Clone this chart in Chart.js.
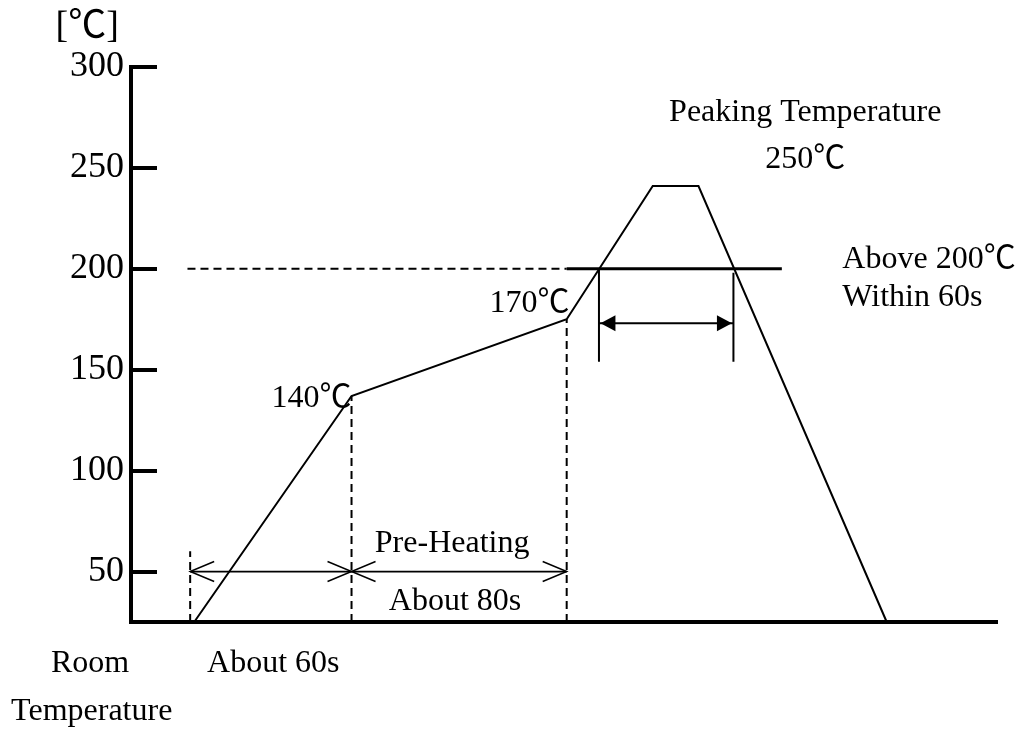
<!DOCTYPE html>
<html>
<head>
<meta charset="utf-8">
<script src="https://cdn.jsdelivr.net/npm/chart.js@4.4.1/dist/chart.umd.min.js"></script>
<style>
  html, body { margin: 0; padding: 0; background: #fff; }
</style>
</head>
<body>
<canvas id="chart" width="1021" height="729"></canvas>
<script>
// reflow profile (x: seconds, y: °C)
const profileTime = [1.5, 60, 140, 172, 189, 259];
const profileTemp = [25, 137, 175, 241, 241, 25];
const yTicks = [50, 100, 150, 200, 250, 300];

const guideTemp = 200;
const dashedGuideTime = [-1, 140];
const solidGuideTime = [140, 220];

const stepTimes = [0, 60, 140];   // dashed verticals
const stepTops = [60, 137, 175];
const roomTemp = 25;

const windowTimes = [152, 202];   // "within 60s" bracket
const windowTops = [200, 198];
const windowBottom = 154;

const arrowTemp = 50;
const windowArrowTemp = 173;

const SERIF = "'Liberation Serif', 'Times New Roman', serif";
const CJK = "'Noto Sans CJK JP', 'Noto Sans CJK SC', sans-serif";

const pts = (xs, ys) => xs.map((x, i) => ({ x: x, y: ys[i] }));

// vertical segments, broken by null points
function verticals(xs, bottoms, tops) {
  const out = [];
  xs.forEach((x, i) => {
    out.push({ x: x, y: bottoms[i] }, { x: x, y: tops[i] }, { x: x, y: null });
  });
  return out;
}

const line = (data, extra) => Object.assign({
  data: data, borderColor: '#000', borderWidth: 2, pointRadius: 0,
  tension: 0, fill: false, spanGaps: false, clip: false
}, extra);

// text labels, placed in data coordinates
const labels = [
  { text: '[℃]', t: -38.3, v: 314.9, align: 'center', size: 38 },
  { text: 'Peaking Temperature', t: 228.7, v: 273.3, align: 'center' },
  { text: '250℃', t: 228.7, v: 250, align: 'center' },
  { text: 'Above 200℃', t: 242.5, v: 200.4, align: 'left' },
  { text: 'Within 60s', t: 242.5, v: 181.6, align: 'left' },
  { text: '170℃', t: 141, v: 178.6, align: 'right' },
  { text: '140℃', t: 60, v: 131.5, align: 'right' },
  { text: 'Pre-Heating', t: 97.4, v: 59.7, align: 'center' },
  { text: 'About 80s', t: 98.5, v: 31, align: 'center' },
  { text: 'About 60s', t: 30.9, v: 0.2, align: 'center' },
  { text: 'Room', t: -37.2, v: 0.2, align: 'center' },
  { text: 'Temperature', t: -36.6, v: -23.6, align: 'center' }
];

// draw text with ℃ taken from the CJK font
function drawMixed(ctx, text, x, y, align, size) {
  const runs = text.split(/(℃)/).filter(s => s.length);
  const fontFor = s => size + 'px ' + (s === '℃' ? CJK : SERIF);
  let total = 0;
  runs.forEach(s => { ctx.font = fontFor(s); total += ctx.measureText(s).width; });
  let cx = align === 'center' ? x - total / 2 : align === 'right' ? x - total : x;
  ctx.textAlign = 'left';
  ctx.textBaseline = 'alphabetic';
  runs.forEach(s => {
    ctx.font = fontFor(s);
    ctx.fillText(s, cx, y);
    cx += ctx.measureText(s).width;
  });
}

const annotations = {
  id: 'annotations',
  afterDatasetsDraw(chart) {
    const { ctx, scales: { x, y } } = chart;
    ctx.save();
    ctx.fillStyle = '#000';
    ctx.strokeStyle = '#000';

    // open arrow heads on the time spans
    ctx.lineWidth = 1.5;
    const ay = y.getPixelForValue(arrowTemp);
    [[stepTimes[0], -1], [stepTimes[1], 1], [stepTimes[1], -1], [stepTimes[2], 1]].forEach(([t, dir]) => {
      const px = x.getPixelForValue(t);
      ctx.beginPath();
      ctx.moveTo(px - dir * 24, ay - 10);
      ctx.lineTo(px, ay);
      ctx.lineTo(px - dir * 24, ay + 10);
      ctx.stroke();
    });

    // filled arrow heads inside the window
    const wy = y.getPixelForValue(windowArrowTemp);
    [[windowTimes[0], -1], [windowTimes[1], 1]].forEach(([t, dir]) => {
      const px = x.getPixelForValue(t) - dir * 1.5;
      ctx.beginPath();
      ctx.moveTo(px, wy);
      ctx.lineTo(px - dir * 15, wy - 8);
      ctx.lineTo(px - dir * 15, wy + 8);
      ctx.closePath();
      ctx.fill();
    });

    labels.forEach(l => {
      drawMixed(ctx, l.text, x.getPixelForValue(l.t), y.getPixelForValue(l.v), l.align, l.size || 32);
    });
    ctx.restore();
  }
};

new Chart(document.getElementById('chart'), {
  type: 'line',
  data: {
    datasets: [
      line(pts(profileTime, profileTemp)),
      line(pts(dashedGuideTime, [guideTemp, guideTemp]), { borderDash: [8, 5] }),
      line(pts(solidGuideTime, [guideTemp, guideTemp]), { borderWidth: 3 }),
      line(verticals(stepTimes, stepTimes.map(() => roomTemp), stepTops), { borderDash: [8, 5] }),
      line(verticals(windowTimes, windowTimes.map(() => windowBottom), windowTops)),
      line(pts([stepTimes[0], stepTimes[2]], [arrowTemp, arrowTemp]), { borderWidth: 1.8 }),
      line(pts(windowTimes, [windowArrowTemp, windowArrowTemp]), { borderWidth: 2 })
    ]
  },
  options: {
    responsive: false,
    animation: false,
    layout: { padding: { top: 67, right: 24, left: 0, bottom: 0 } },
    plugins: { legend: { display: false }, tooltip: { enabled: false } },
    scales: {
      x: {
        type: 'linear', min: -22, max: 300,
        afterFit: s => { s.height = 107; },
        ticks: { display: false },
        grid: { display: true, drawOnChartArea: false, drawTicks: false },
        border: { display: true, width: 4, color: '#000' }
      },
      y: {
        type: 'linear', min: 25, max: 300,
        afterBuildTicks: s => { s.ticks = yTicks.map(v => ({ value: v })); },
        afterFit: s => { s.width = 131; },
        grid: { drawOnChartArea: false, drawTicks: true, tickLength: -26, lineWidth: 4, color: '#000' },
        border: { display: true, width: 4, color: '#000' },
        ticks: { color: '#000', padding: 33, font: { family: SERIF, size: 36 } }
      }
    }
  },
  plugins: [annotations]
});
</script>
</body>
</html>
